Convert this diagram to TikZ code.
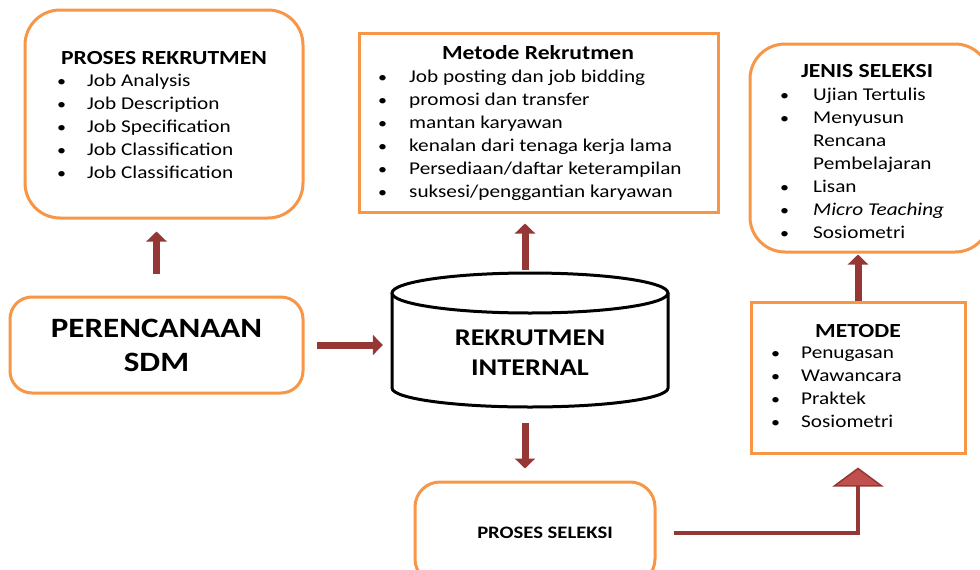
\documentclass[tikz,border=0pt]{standalone}
\usepackage{fontspec}
\setmainfont{Carlito}[FakeStretch=1.18]
\usetikzlibrary{arrows.meta,positioning}
\definecolor{boxorange}{HTML}{F79646}
\definecolor{arrowred}{HTML}{953735}
\definecolor{headred}{HTML}{C0504D}
\newcommand{\bulletitem}[2][30pt]{\makebox[#1][l]{\scalebox{0.85}{\textbullet}}#2}
\newcommand{\listfont}{\fontsize{18}{23}\selectfont}
\newcommand{\titlefont}{\fontsize{20}{23}\selectfont\bfseries}

\begin{document}
\begin{tikzpicture}[x=1pt, y=-1pt,
  roundbox/.style={draw=boxorange, line width=3pt, fill=white, rounded corners=#1, inner sep=0pt},
  squarebox/.style={draw=boxorange, line width=3pt, fill=white, inner sep=0pt},
  listtext/.style={align=left, inner sep=0pt, font=\listfont, anchor=north west},
  flow/.style={draw=arrowred, line width=7pt, -{Triangle[width=20pt, length=10pt]}},
  bigflow/.style={draw=arrowred, line width=4pt, -{Triangle[width=51pt, length=19pt, fill=headred, line width=1.5pt]}}]
\useasboundingbox (0,0) rectangle (980,570);
\clip (0,0) rectangle (980,570);

% boxes
\node[roundbox=35pt, minimum width=278pt, minimum height=208pt] (rekrutmen) at (164,114) {};
\node[squarebox, minimum width=359pt, minimum height=179pt] (metoderek) at (538.5,122.5) {};
\node[roundbox=35pt, minimum width=240pt, minimum height=208pt] (jenis) at (870,148) {};
\node[roundbox=22pt, minimum width=293pt, minimum height=96pt, font=\fontsize{28}{34}\selectfont\bfseries, align=center] (perencanaan) at (156.5,345) {PERENCANAAN\\SDM};
\node[squarebox, minimum width=214pt, minimum height=151pt] (metode) at (858,377.5) {};
\node[roundbox=25pt, minimum width=240pt, minimum height=102pt, font=\fontsize{17.5}{20}\selectfont\bfseries] (seleksi) at (535,533) {\hspace*{20pt}PROSES SELEKSI};

% cylinder
\draw[line width=3pt, fill=white] (392,293) -- (392,388) arc[start angle=180, end angle=0, x radius=138, y radius=19] -- (668,293);
\draw[line width=3pt, fill=white] (530,293) ellipse[x radius=138, y radius=20];
\node[minimum width=276pt, minimum height=116pt, inner sep=0pt, align=center,
  font=\fontsize{24}{30}\selectfont\bfseries] (internal) at (530,353) {REKRUTMEN\\INTERNAL};

% texts
\node[font=\titlefont] (rekrutmentitle) at (164,58) {PROSES REKRUTMEN};
\node[listtext] (rekrutmenlist) at (57,74) {\bulletitem{Job Analysis}\\
  \bulletitem{Job Description}\\
  \bulletitem{Job Specification}\\
  \bulletitem{Job Classification}\\
  \bulletitem{Job Classification}};

\node[font=\titlefont] (metoderektitle) at (538,53) {Metode Rekrutmen};
\node[listtext] (metodereklist) at (378,70) {\bulletitem[31pt]{Job posting dan job bidding}\\
  \bulletitem[31pt]{promosi dan transfer}\\
  \bulletitem[31pt]{mantan karyawan}\\
  \bulletitem[31pt]{kenalan dari tenaga kerja lama}\\
  \bulletitem[31pt]{Persediaan/daftar keterampilan}\\
  \bulletitem[31pt]{suksesi/penggantian karyawan}};

\node[font=\titlefont] (jenistitle) at (867,71) {JENIS SELEKSI};
\node[listtext] (jenislist) at (780,88) {\bulletitem[33pt]{Ujian Tertulis}\\
  \bulletitem[33pt]{Menyusun}\\
  \hspace*{33pt}Rencana\\
  \hspace*{33pt}Pembelajaran\\
  \bulletitem[33pt]{Lisan}\\
  \bulletitem[33pt]{\itshape Micro Teaching}\\
  \bulletitem[33pt]{Sosiometri}};

\node[font=\titlefont] (metodetitle) at (858,331) {METODE};
\node[listtext] (metodelist) at (771,347) {\bulletitem{Penugasan}\\
  \bulletitem{Wawancara}\\
  \bulletitem{Praktek}\\
  \bulletitem{Sosiometri}};

% arrows
\draw[flow, shorten <=22pt, shorten >=12pt] (perencanaan.north) -- (perencanaan.north |- rekrutmen.south);
\draw[flow, shorten <=25pt, shorten >=10pt] ([xshift=-5pt]internal.north) -- ([xshift=-5pt]internal.north |- metoderek.south);
\draw[flow, shorten <=12pt, shorten >=9pt] (perencanaan.east) -- (perencanaan.east -| internal.west);
\draw[flow, shorten <=12pt, shorten >=12pt] ([xshift=-5pt]internal.south) -- ([xshift=-5pt]internal.south |- seleksi.north);
\draw[flow, shorten >=1pt] (metode.north) -- (metode.north |- jenis.south);
\draw[bigflow, shorten <=17pt, shorten >=13pt] (seleksi.east) -| (metode.south);
\end{tikzpicture}
\end{document}
